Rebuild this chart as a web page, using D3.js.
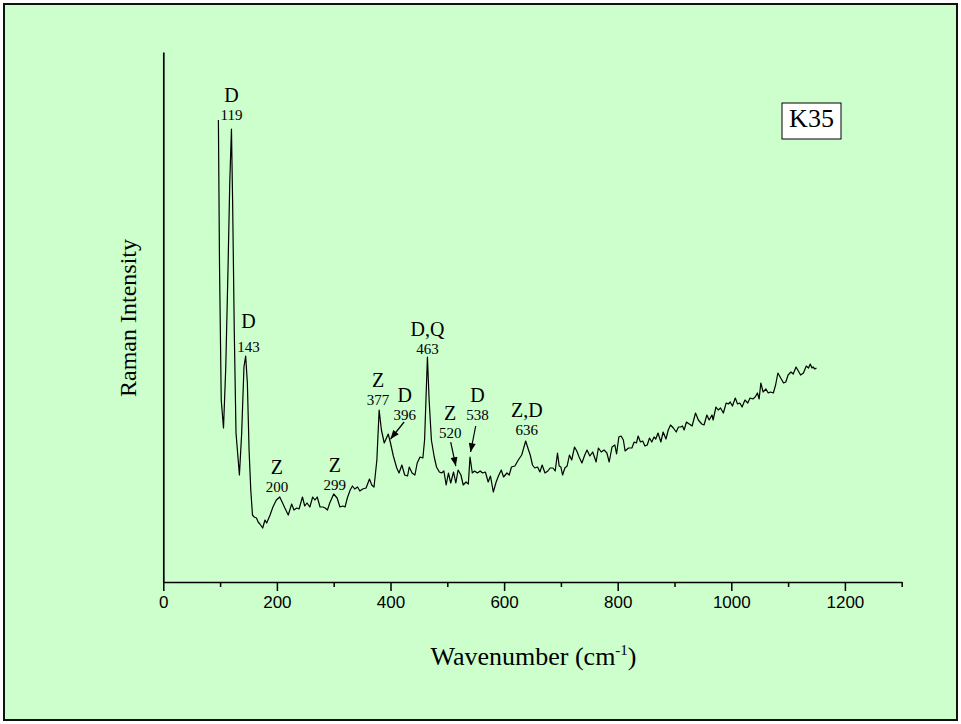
<!DOCTYPE html>
<html>
<head>
<meta charset="utf-8">
<script src="https://cdn.jsdelivr.net/npm/d3@7"></script>
<style>
  html, body { margin: 0; padding: 0; background: #fff; }
  svg { display: block; }
</style>
</head>
<body>
<div id="container"></div>
<script>
// Chart dimensions
const width = 961;
const height = 724;

// Spectrum (wavenumber in cm-1, intensity in arbitrary units)
const wavenumber = [
  97, 99, 102, 106, 110, 114, 117, 120, 122, 125, 128, 134, 138, 142, 145, 148, 151, 154, 157, 160,
  164, 167, 170, 175, 179, 182, 188, 193, 199, 205, 210, 214, 220, 226, 230, 235, 239, 245, 249, 253,
  258, 263, 267, 271, 276, 281, 285, 289, 293, 300, 306, 311, 316, 320, 324, 329, 333, 337, 342, 346,
  351, 357, 363, 367, 371, 376, 380, 384, 389, 396, 400, 405, 411, 415, 420, 425, 430, 433, 438, 443,
  447, 452, 457, 460, 465, 468, 472, 477, 481, 486, 490, 494, 498, 502, 506, 511, 515, 519, 524, 528,
  533, 537, 540, 544, 548, 553, 558, 562, 567, 572, 576, 581, 586, 590, 595, 599, 605, 609, 613, 619,
  625, 631, 638, 643, 646, 650, 654, 659, 663, 667, 672, 677, 681, 686, 690, 694, 697, 700, 703, 707,
  711, 715, 719, 724, 728, 732, 737, 742, 746, 751, 756, 762, 766, 771, 776, 781, 785, 790, 795, 798,
  802, 806, 810, 813, 819, 825, 829, 833, 836, 840, 844, 848, 852, 856, 860, 864, 867, 871, 876, 880,
  885, 889, 893, 898, 903, 907, 911, 914, 917, 921, 926, 931, 937, 942, 948, 952, 957, 961, 966, 968,
  973, 977, 981, 986, 991, 995, 998, 1002, 1007, 1011, 1015, 1019, 1024, 1029, 1033, 1038, 1042, 1046, 1049, 1052,
  1056, 1061, 1065, 1069, 1074, 1078, 1082, 1087, 1092, 1096, 1100, 1105, 1109, 1114, 1118, 1122, 1127, 1132, 1136, 1139,
  1142, 1144, 1147, 1150
];
const intensity = [
  462, 315, 182, 154, 215, 315, 399, 453, 382, 249, 149, 107, 149, 215, 226, 199, 132, 92, 67, 65,
  64, 60, 58, 54, 62, 59, 67, 75, 82, 85, 79, 74, 67, 78, 72, 74, 73, 85, 76, 79,
  75, 85, 82, 85, 75, 75, 74, 72, 79, 88, 84, 75, 76, 75, 84, 92, 96, 93, 95, 91,
  93, 94, 103, 97, 95, 122, 172, 152, 139, 148, 139, 126, 114, 109, 117, 107, 106, 115, 109, 107,
  119, 125, 124, 142, 225, 182, 142, 125, 115, 110, 109, 111, 97, 109, 99, 110, 99, 112, 107, 97,
  100, 98, 125, 109, 111, 109, 111, 109, 110, 100, 106, 90, 100, 106, 112, 105, 109, 107, 115, 116,
  122, 127, 141, 132, 127, 117, 114, 115, 110, 117, 109, 111, 114, 114, 111, 129, 116, 115, 107, 114,
  116, 127, 122, 135, 131, 125, 119, 127, 132, 126, 130, 120, 134, 130, 132, 129, 120, 135, 137, 128,
  145, 146, 142, 131, 134, 134, 140, 139, 146, 140, 141, 136, 137, 144, 140, 145, 143, 149, 140, 150,
  143, 152, 157, 154, 150, 155, 155, 156, 152, 160, 158, 156, 169, 162, 158, 157, 167, 162, 167, 162,
  175, 172, 174, 169, 179, 178, 180, 176, 184, 178, 179, 175, 182, 179, 184, 183, 185, 189, 183, 199,
  190, 193, 189, 190, 189, 197, 209, 204, 199, 200, 207, 210, 208, 215, 211, 207, 209, 216, 214, 218,
  214, 215, 213, 214
];

// Axis ticks
const majorTicks = [0, 200, 400, 600, 800, 1000, 1200];
const minorTicks = [100, 300, 500, 700, 900, 1100, 1300];

// Band assignments: letters, peak position, label centre (cm-1), number / letter baselines and arrows (intensity units)
const bandLetters = ["D", "D", "Z", "Z", "Z", "D", "D,Q", "Z", "D", "Z,D"];
const bandPeaks   = [119, 143, 200, 299, 377, 396, 463, 520, 538, 636];
const labelWn     = [120, 150, 200, 302, 378, 425, 465, 505, 553, 640];
const numberBase  = [462, 230, 90, 92, 177, 162, 228, 144, 162, 147];
const letterBase  = [480, 254, 108, 110, 195, 180, 246, 162, 180, 165];
const arrows = [
  { from: [424, 160], to: [400, 143] },
  { from: [506, 140], to: [515, 116] },
  { from: [550, 156], to: [541, 130] }
];

const sampleName = "K35";

const data = wavenumber.map((w, i) => ({ w, v: intensity[i] }));

const svg = d3.select("#container").append("svg")
    .attr("width", width)
    .attr("height", height);

// frame
svg.append("rect")
    .attr("x", 4).attr("y", 4)
    .attr("width", 953).attr("height", 716)
    .attr("fill", "#ccffcc")
    .attr("stroke", "#111")
    .attr("stroke-width", 2);

const x = d3.scaleLinear().domain([0, 1300]).range([163.3, 901.7]);
const y = d3.scaleLinear().domain([0, 530]).range([582, 52]);

// arrowhead
svg.append("defs").append("marker")
    .attr("id", "head")
    .attr("viewBox", "0 0 10 8")
    .attr("refX", 10).attr("refY", 4)
    .attr("markerWidth", 10).attr("markerHeight", 7)
    .attr("markerUnits", "userSpaceOnUse")
    .attr("orient", "auto")
  .append("path")
    .attr("d", "M0,0L10,4L0,8Z")
    .attr("fill", "#000");

// x axis, major + minor ticks
const xAxis = svg.append("g")
    .attr("transform", `translate(0,${y(0)})`)
    .call(d3.axisBottom(x).tickValues(majorTicks).tickFormat(d3.format("d"))
      .tickSize(9).tickSizeOuter(0).tickPadding(5));
svg.append("g")
    .attr("transform", `translate(0,${y(0)})`)
    .call(d3.axisBottom(x).tickValues(minorTicks).tickSize(5).tickFormat("").tickSizeOuter(0))
    .call(g => g.select(".domain").remove());
svg.selectAll(".tick line").attr("stroke", "#000").attr("stroke-width", 1.5);
xAxis.select(".domain").attr("stroke", "#000").attr("stroke-width", 1.5);
xAxis.selectAll("text")
    .attr("font-family", "'Liberation Sans', Arial, sans-serif")
    .attr("font-size", 17)
    .attr("fill", "#000");

// y axis (line only)
svg.append("g")
    .attr("transform", `translate(${x(0)},0)`)
    .call(d3.axisLeft(y).tickValues([]).tickSizeOuter(0))
    .select(".domain").attr("stroke", "#000").attr("stroke-width", 1.7);

// spectrum
svg.append("path")
    .datum(data)
    .attr("fill", "none")
    .attr("stroke", "#000")
    .attr("stroke-width", 1.2)
    .attr("stroke-linejoin", "round")
    .attr("d", d3.line().x(d => x(d.w)).y(d => y(d.v)));

// band labels
const serif = "'Liberation Serif', 'Times New Roman', serif";
const lab = svg.append("g").attr("font-family", serif).attr("text-anchor", "middle").attr("fill", "#000");
bandLetters.forEach((t, i) => {
  lab.append("text")
      .attr("x", x(labelWn[i])).attr("y", y(letterBase[i]))
      .attr("font-size", 20)
      .text(t);
  lab.append("text")
      .attr("x", x(labelWn[i])).attr("y", y(numberBase[i]))
      .attr("font-size", 15)
      .text(bandPeaks[i]);
});

svg.append("g").selectAll("line")
    .data(arrows)
    .join("line")
    .attr("x1", d => x(d.from[0])).attr("y1", d => y(d.from[1]))
    .attr("x2", d => x(d.to[0])).attr("y2", d => y(d.to[1]))
    .attr("stroke", "#000")
    .attr("stroke-width", 1.2)
    .attr("marker-end", "url(#head)");

// sample box
svg.append("rect")
    .attr("x", 782).attr("y", 103)
    .attr("width", 59).attr("height", 36)
    .attr("fill", "#fff")
    .attr("stroke", "#000")
    .attr("stroke-width", 1);
svg.append("text")
    .attr("x", 811.5).attr("y", 127)
    .attr("text-anchor", "middle")
    .attr("font-family", serif)
    .attr("font-size", 26)
    .text(sampleName);

// axis titles
const xt = svg.append("text")
    .attr("x", 533.5).attr("y", 665)
    .attr("text-anchor", "middle")
    .attr("font-family", serif)
    .attr("font-size", 26);
xt.append("tspan").text("Wavenumber (cm");
xt.append("tspan").attr("dy", -10).attr("font-size", 15).text("-1");
xt.append("tspan").attr("dy", 10).text(")");

svg.append("text")
    .attr("transform", "translate(136,318) rotate(-90)")
    .attr("text-anchor", "middle")
    .attr("font-family", serif)
    .attr("font-size", 24)
    .text("Raman Intensity");
</script>
</body>
</html>
